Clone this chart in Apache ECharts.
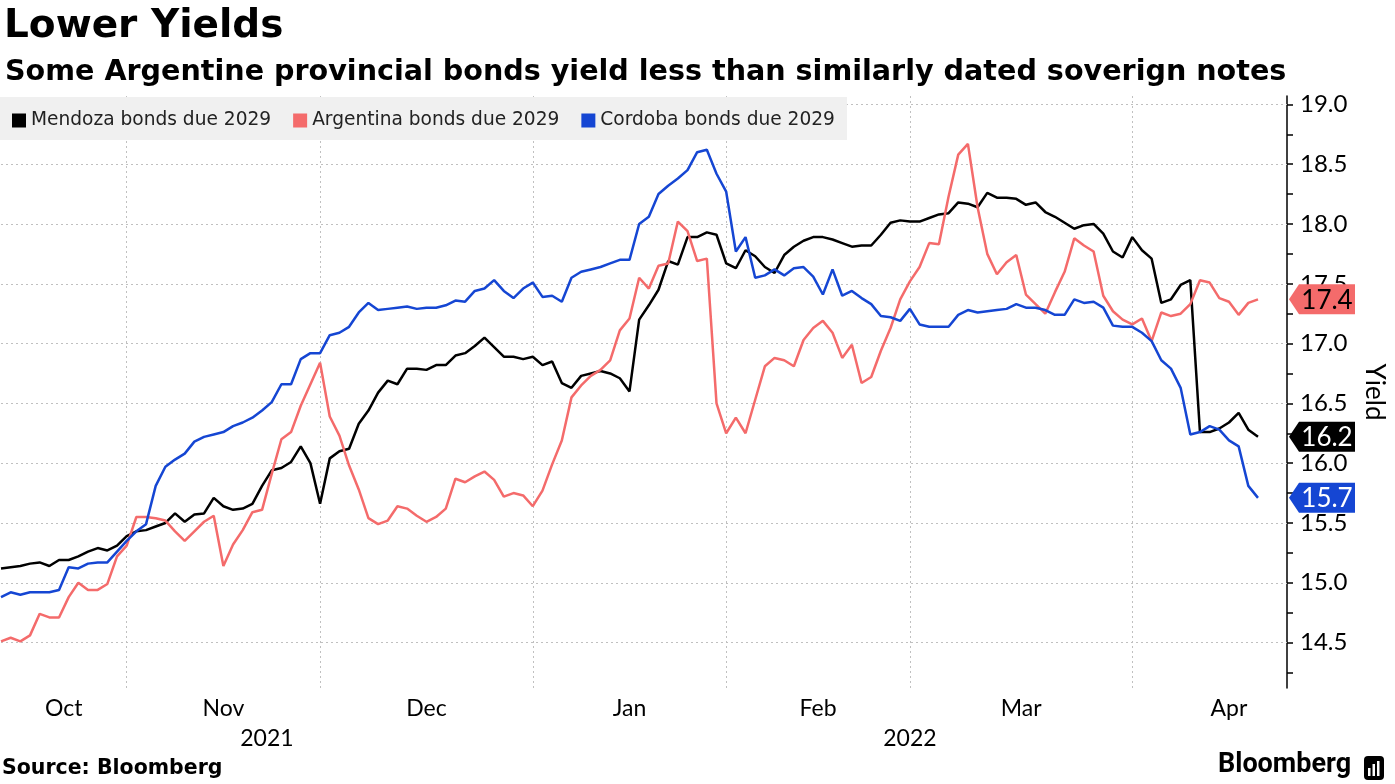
<!DOCTYPE html>
<html>
<head>
<meta charset="utf-8">
<script src="https://cdn.jsdelivr.net/npm/echarts@6/dist/echarts.min.js"></script>
<style>
html,body{margin:0;padding:0;background:#fff;}
#chart{width:1395px;height:784px;}
</style>
</head>
<body>
<div id="chart"></div>
<script>
// ---------- data ----------
const titleText = 'Lower Yields';
const subtitleText = 'Some Argentine provincial bonds yield less than similarly dated soverign notes';
const sourceText = 'Source: Bloomberg';
const seriesNames = ['Mendoza bonds due 2029', 'Argentina bonds due 2029', 'Cordoba bonds due 2029'];
const firstDay = '2021-10-13';
const lastCalendarDay = '2022-04-29';
const marketHolidays = ['2021-11-11', '2021-11-25', '2021-12-24', '2022-01-17', '2022-02-21', '2022-04-15'];
const monthNames = ['Jan','Feb','Mar','Apr','May','Jun','Jul','Aug','Sep','Oct','Nov','Dec'];
const yTicks = [14.5, 15.0, 15.5, 16.0, 16.5, 17.0, 17.5, 18.0, 18.5, 19.0];
const yMinorTicks = [14.25, 14.75, 15.25, 15.75, 16.25, 16.75, 17.25, 17.75, 18.25, 18.75];
const yMin = 14.12;
const yMax = 19.07;

const mendoza = [
15.12,15.13,15.14,15.16,15.17,15.14,15.19,15.19,15.22,15.26,
15.29,15.27,15.31,15.39,15.43,15.44,15.47,15.50,15.58,15.51,
15.57,15.58,15.71,15.64,15.61,15.62,15.66,15.81,15.94,15.96,
16.01,16.14,16.00,15.66,16.04,16.10,16.12,16.33,16.44,16.59,
16.69,16.66,16.79,16.79,16.78,16.82,16.82,16.90,16.92,16.98,
17.05,16.97,16.89,16.89,16.87,16.89,16.82,16.85,16.67,16.63,
16.73,16.75,16.77,16.75,16.71,16.60,17.20,17.32,17.45,17.69,
17.66,17.89,17.89,17.93,17.91,17.67,17.63,17.78,17.73,17.64,
17.59,17.74,17.81,17.86,17.89,17.89,17.87,17.84,17.81,17.82,
17.82,17.91,18.01,18.03,18.02,18.02,18.05,18.08,18.09,18.18,
18.17,18.14,18.26,18.22,18.22,18.21,18.16,18.18,18.10,18.06,
18.01,17.96,17.99,18.00,17.92,17.77,17.72,17.89,17.78,17.71,
17.34,17.37,17.49,17.53,16.26,16.26,16.29,16.34,16.42,16.28,
16.22];

const argentina = [
14.51,14.54,14.51,14.56,14.74,14.71,14.71,14.88,15.00,14.94,
14.94,14.99,15.22,15.31,15.55,15.55,15.54,15.52,15.43,15.35,
15.43,15.51,15.56,15.14,15.32,15.44,15.59,15.61,15.91,16.20,
16.26,16.48,16.66,16.84,16.39,16.23,15.98,15.78,15.54,15.49,
15.52,15.64,15.62,15.56,15.51,15.55,15.62,15.87,15.84,15.89,
15.93,15.86,15.72,15.75,15.73,15.64,15.77,15.99,16.19,16.55,
16.65,16.73,16.78,16.86,17.11,17.21,17.55,17.46,17.65,17.67,
18.02,17.94,17.69,17.71,16.50,16.25,16.38,16.25,16.53,16.81,
16.88,16.86,16.81,17.03,17.13,17.19,17.09,16.88,16.99,16.67,
16.72,16.94,17.13,17.37,17.52,17.64,17.84,17.83,18.23,18.58,
18.67,18.14,17.75,17.58,17.68,17.74,17.41,17.33,17.25,17.43,
17.60,17.88,17.82,17.77,17.40,17.27,17.20,17.16,17.21,17.02,
17.26,17.23,17.25,17.33,17.53,17.51,17.38,17.35,17.24,17.34,
17.37];

const cordoba = [
14.88,14.92,14.90,14.92,14.92,14.92,14.94,15.13,15.12,15.16,
15.17,15.17,15.26,15.35,15.43,15.49,15.81,15.97,16.03,16.08,
16.18,16.22,16.24,16.26,16.31,16.34,16.38,16.44,16.51,16.66,
16.66,16.87,16.92,16.92,17.07,17.09,17.14,17.26,17.34,17.28,
17.29,17.30,17.31,17.29,17.30,17.30,17.32,17.36,17.35,17.44,
17.46,17.53,17.44,17.38,17.46,17.51,17.39,17.40,17.35,17.55,
17.60,17.62,17.64,17.67,17.70,17.70,18.00,18.06,18.25,18.32,
18.38,18.45,18.60,18.62,18.42,18.27,17.77,17.89,17.55,17.57,
17.62,17.57,17.63,17.64,17.56,17.41,17.62,17.40,17.44,17.38,
17.33,17.23,17.22,17.19,17.29,17.16,17.14,17.14,17.14,17.24,
17.28,17.26,17.27,17.28,17.29,17.33,17.30,17.30,17.28,17.24,
17.24,17.37,17.34,17.35,17.30,17.15,17.14,17.14,17.09,17.02,
16.86,16.79,16.63,16.24,16.26,16.31,16.28,16.19,16.14,15.81,
15.71];

// ---------- trading-day calendar (category positions) ----------
function tradingDays(start, end, holidays) {
  const out = [];
  const d = new Date(start + 'T00:00:00Z');
  const e = new Date(end + 'T00:00:00Z');
  while (d <= e) {
    const iso = d.toISOString().slice(0, 10);
    const wd = d.getUTCDay();
    if (wd !== 0 && wd !== 6 && holidays.indexOf(iso) < 0) out.push(iso);
    d.setUTCDate(d.getUTCDate() + 1);
  }
  return out;
}
const dates = tradingDays(firstDay, lastCalendarDay, marketHolidays);
const lastIdx = mendoza.length - 1;
const xMax = lastIdx + 3;

// month spans
const months = [];
dates.forEach((d, i) => {
  const key = d.slice(0, 7);
  if (!months.length || months[months.length - 1].key !== key) months.push({ key, start: i });
});
months.forEach((m, k) => { m.end = k + 1 < months.length ? months[k + 1].start : dates.length; });
const shownMonths = months.filter(m => m.start <= xMax);
const monthCenters = shownMonths.map(m => (m.start + m.end) / 2);
const monthText = shownMonths.map(m => monthNames[parseInt(m.key.slice(5, 7), 10) - 1]);
const monthStarts = shownMonths.map(m => m.start).filter(i => i > 0);

// year spans
const years = [];
dates.forEach((d, i) => {
  const y = d.slice(0, 4);
  if (!years.length || years[years.length - 1].y !== y) years.push({ y, start: i });
});
years.forEach((yy, k) => { yy.end = k + 1 < years.length ? years[k + 1].start : xMax; });
const yearCenters = years.map(yy => (yy.start + Math.min(yy.end, xMax)) / 2);
const yearText = years.map(yy => yy.y);

function lookup(vals, texts, v) {
  let best = 0;
  vals.forEach((c, k) => { if (Math.abs(c - v) < Math.abs(vals[best] - v)) best = k; });
  return texts[best];
}

// ---------- chart ----------
const colors = ['#000000', '#f46b6b', '#1546d3'];
const labelText = ['#ffffff', '#000000', '#ffffff'];
const allSeries = [mendoza, argentina, cordoba];
const tagPath = 'path://M0,15 L10,0 L66,0 L66,30 L10,30 Z';

const chart = echarts.init(document.getElementById('chart'), null, { renderer: 'canvas' });

const gridLines = yTicks.map(v => ({ yAxis: v })).concat(monthStarts.map(i => ({ xAxis: i })));

const series = allSeries.map((arr, k) => ({
  name: seriesNames[k],
  type: 'line',
  xAxisIndex: 0,
  yAxisIndex: 0,
  data: arr.map((v, i) => [i, v]),
  showSymbol: false,
  symbol: 'none',
  lineStyle: { color: colors[k], width: 2.5 },
  itemStyle: { color: colors[k] },
  z: 3 + k,
  markPoint: {
    symbol: tagPath,
    symbolSize: [66, 30],
    symbolKeepAspect: false,
    symbolOffset: [35, 0],
    silent: true,
    itemStyle: { color: colors[k] },
    label: {
      show: true,
      position: 'inside',
      offset: [5, 1],
      color: labelText[k],
      fontFamily: 'Lato',
      fontSize: 26,
      formatter: p => Number(p.value).toFixed(1)
    },
    data: [{ coord: [xMax, arr[lastIdx]], value: arr[lastIdx] }]
  },
  markLine: k === 0 ? {
    silent: true,
    symbol: ['none', 'none'],
    z: 1,
    label: { show: false },
    lineStyle: { color: '#c0c0c0', type: [2, 3], width: 1 },
    emphasis: { disabled: true },
    data: gridLines
  } : undefined
}));

const option = {
  animation: false,
  backgroundColor: '#ffffff',
  title: [
    { text: titleText, left: -1, top: 2, textStyle: { fontFamily: 'DejaVu Sans', fontWeight: 'bold', fontSize: 39, color: '#000' } },
    { text: subtitleText, left: 0, top: 53, textStyle: { fontFamily: 'DejaVu Sans', fontWeight: 'bold', fontSize: 28.6, color: '#000' } }
  ],
  legend: {
    data: seriesNames,
    left: 0,
    top: 97,
    backgroundColor: '#f0f0f0',
    padding: [14, 12, 10, 12],
    itemGap: 22,
    itemWidth: 14,
    itemHeight: 14,
    icon: 'rect',
    selectedMode: false,
    textStyle: { fontFamily: 'DejaVu Sans', fontSize: 18.6, color: '#222' },
    z: 10
  },
  grid: { left: 1, right: 102, top: 96, bottom: 96, containLabel: false },
  xAxis: [
    {
      type: 'value', min: 0, max: xMax,
      axisLine: { show: false, onZero: false }, axisTick: { show: false }, splitLine: { show: false },
      axisLabel: {
        customValues: monthCenters,
        formatter: v => lookup(monthCenters, monthText, v),
        fontFamily: 'Lato', fontSize: 23, color: '#000', margin: 9
      }
    },
    {
      type: 'value', min: 0, max: xMax, position: 'bottom', offset: 30,
      axisLine: { show: false, onZero: false }, axisTick: { show: false }, splitLine: { show: false },
      axisLabel: {
        customValues: yearCenters,
        formatter: v => lookup(yearCenters, yearText, v),
        fontFamily: 'Lato', fontSize: 23, color: '#000', margin: 9
      }
    }
  ],
  yAxis: {
    type: 'value', position: 'right', min: yMin, max: yMax,
    name: 'Yield', nameLocation: 'middle', nameRotate: -90, nameGap: 74,
    nameTextStyle: { fontFamily: 'Lato', fontSize: 26, color: '#000' },
    axisLine: { show: true, onZero: false, lineStyle: { color: '#000', width: 1.5 } },
    axisTick: { show: true, customValues: yTicks.concat(yMinorTicks), length: 6, lineStyle: { color: '#000', width: 1.5 } },
    axisLabel: {
      customValues: yTicks,
      formatter: v => Number(v).toFixed(1),
      fontFamily: 'Lato', fontSize: 24, color: '#000', margin: 13
    },
    splitLine: { show: false }
  },
  graphic: [
    { type: 'text', left: 2, top: 758, style: { text: sourceText, fontFamily: 'DejaVu Sans', fontWeight: 'bold', fontSize: 20.5, fill: '#000' } },
    { type: 'text', left: 1218, top: 752, style: { text: 'Bloomberg', fontFamily: 'Roboto', fontWeight: 'bold', fontSize: 27, fill: '#000' } },
    { type: 'rect', left: 1364, top: 756, shape: { width: 20, height: 24, r: 4 }, style: { fill: '#000' } },
    { type: 'rect', left: 1368, top: 768, shape: { width: 2.5, height: 8 }, style: { fill: '#fff' } },
    { type: 'rect', left: 1372.5, top: 764, shape: { width: 2.5, height: 12 }, style: { fill: '#fff' } },
    { type: 'rect', left: 1377, top: 761, shape: { width: 2.5, height: 15 }, style: { fill: '#fff' } }
  ],
  series: series
};
chart.setOption(option);
</script>
</body>
</html>
